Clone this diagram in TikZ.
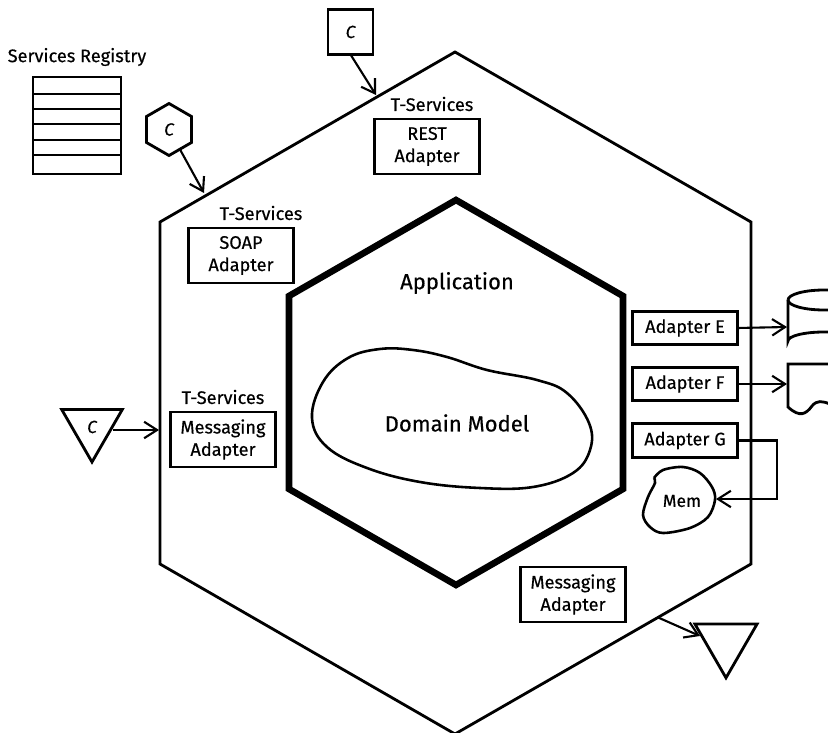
\documentclass[tikz,border=0pt]{standalone}
\usepackage{fontspec}
\setmainfont[FakeBold=0.4]{Fira Sans}
\usetikzlibrary{shapes.geometric,arrows.meta}
\tikzset{
  x=0.03cm,y=-0.03cm,
  thickline/.style={line width=2.4pt,line join=miter},
  heavyline/.style={line width=5.6pt,line join=miter},
  conn/.style={line width=1.8pt,-{Straight Barb[length=11pt,width=14pt,line width=1.8pt]}},
  adapterbox/.style={draw,line width=2.4pt,minimum width=3.15cm,minimum height=1.65cm,inner sep=0pt,outer sep=0pt,align=center,font=\fontsize{15.5}{19}\selectfont},
  shortbox/.style={adapterbox,minimum height=1cm},
  caption/.style={inner sep=0pt,font=\fontsize{15.5}{18}\selectfont},
  bigcaption/.style={inner sep=0pt,font=\fontsize{18.8}{22}\selectfont},
  client/.style={draw,line width=2.4pt,inner sep=0pt,outer sep=0pt,font=\fontsize{15}{18}\selectfont\itshape},
}
\begin{document}
\begin{tikzpicture}
\useasboundingbox (0,0) rectangle (828,733);
\clip (0,0) rectangle (828,733);

% hexagons
\draw[thickline] (455,52) -- (751,222) -- (751,564) -- (455,734) -- (160,564) -- (160,222) -- cycle;
\draw[heavyline] (456,200) -- (623,296) -- (623,489) -- (456,585) -- (289,489) -- (289,296) -- cycle;

% domain model
\draw[line width=2.2pt] plot[smooth cycle,tension=.65] coordinates {(312,418) (323,382) (348,358) (380,349) (413,350) (447,357) (487,370) (537,380) (567,393) (589,423) (590,450) (573,473) (533,487) (480,488) (420,482) (367,468) (327,447)};
\node[bigcaption] (application) at (457,283) {Application};
\node[bigcaption] (domainmodel) at (457,423) {Domain Model};

% services registry
\node[caption] (registry) at (77,57) {Services Registry};
\draw[thickline] (33,77) rectangle (121,174);
\foreach \y in {94,109,124,140,155} \draw[thickline] (33,\y) -- (121,\y);

% inbound adapters
\node[caption] (restlabel) at (432,104) {T-Services};
\node[adapterbox] (rest) at (427,146.5) {REST\\Adapter};
\node[caption] (soaplabel) at (261,213) {T-Services};
\node[adapterbox] (soap) at (241,255.5) {SOAP\\Adapter};
\node[caption] (msglabel) at (223,397) {T-Services};
\node[adapterbox] (msgin) at (223,439.5) {Messaging\\Adapter};

% outbound adapters
\node[shortbox] (adaptere) at (685,328) {Adapter E};
\node[shortbox] (adapterf) at (685,384) {Adapter F};
\node[shortbox] (adapterg) at (685,440.5) {Adapter G};
\node[adapterbox] (msgout) at (573,594.5) {Messaging\\Adapter};

% clients
\node[client,minimum size=1.35cm] (csquare) at (350.5,32) {C};
\node[client,regular polygon,regular polygon sides=6,shape border rotate=30,minimum size=1.56cm] (chex) at (169,129.5) {C};
\node[client,regular polygon,regular polygon sides=3,shape border rotate=180,minimum size=2.1cm] (ctri) at (92,427) {C};
\node[client,regular polygon,regular polygon sides=3,shape border rotate=180,minimum size=2.15cm] (trout) at (726,642) {};

\coordinate (restport) at (376,95);
\coordinate (soapport) at (204,193);
\coordinate (msgport) at (159,430);
\coordinate (trport) at (657,617);
\coordinate (trend) at (700,636);

\draw[conn] (csquare.south) -- (restport);
\draw[conn] (chex) -- (soapport);
\draw[conn] (ctri.center |- msgport) ++(21,0) -- (msgport);
\draw[conn] (trport) -- (trend);

% database, file and memory
\draw[thickline] (788,300) arc[start angle=180,end angle=360,x radius=36,y radius=10];
\draw[thickline] (788,300) arc[start angle=180,end angle=0,x radius=36,y radius=10];
\draw[thickline] (788,300) -- (788,341) arc[start angle=180,end angle=360,x radius=36,y radius=9];
\draw[thickline] (828,364) -- (788,364) -- (788,407) .. controls (800,418) and (806,414) .. (812,406) .. controls (817,400) and (822,401) .. (830,404);
\draw[line width=2.2pt] plot[smooth,tension=.55] coordinates {(654,478) (663,470) (683,467) (700,473) (712,487) (715,500) (708,517) (690,528) (663,533) (650,527) (643,515) (648,497) (655,483) (654,478)};
\node[caption,font=\fontsize{15}{18}\selectfont] (mem) at (682,501) {Mem};

\coordinate (dbport) at (787,327);
\coordinate (fileport) at (787,384);
\coordinate (memport) at (716,499);
\draw[conn] (adaptere.east) -- (dbport);
\draw[conn] (adapterf.east) -- (fileport);
\draw[conn] (adapterg.east) -- (777,440.5) -- (777,499) -- (memport);

\end{tikzpicture}
\end{document}
